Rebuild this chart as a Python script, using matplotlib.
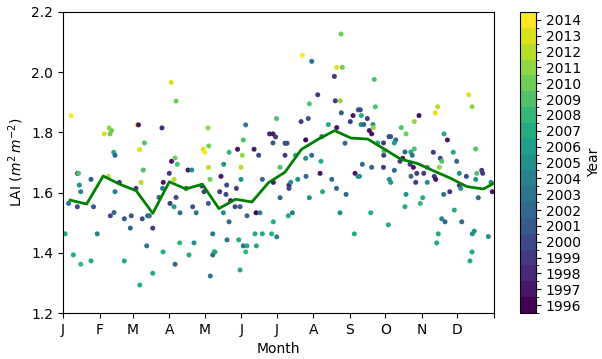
import matplotlib
matplotlib.use("Agg")
import matplotlib.pyplot as plt
import numpy as np
from matplotlib.colors import BoundaryNorm
from matplotlib.ticker import FixedLocator

# observations: day of year, LAI, year
doy = [2.7, 7.8, 5.7, 9.7, 13.3, 14.1, 14.8, 16.0, 13.1, 16.0,
       24.7, 26.8, 30.0, 24.7, 36.0, 40.0, 42.1, 40.8, 39.4, 43.9,
       45.0, 48.7, 45.0, 44.2, 41.1, 52.9, 58.8, 58.0, 52.9, 63.9,
       64.9, 65.8, 69.9, 69.0, 67.1, 62.8, 66.0, 68.1, 72.6, 74.1,
       77.0, 71.9, 77.0, 82.3, 85.3, 85.9, 84.8, 91.0, 92.9, 95.9,
       97.8, 92.6, 96.7, 95.0, 91.6, 96.7, 95.0, 100.1, 85.7, 95.9,
       99.8, 106.9, 110.0, 105.2, 110.8, 113.8, 111.9, 107.7, 119.8, 121.0,
       124.4, 123.8, 124.1, 125.5, 120.4, 124.1, 118.5, 127.8, 128.9, 127.8,
       125.7, 133.7, 134.8, 137.1, 139.6, 139.0, 136.8, 141.6, 141.6, 142.9,
       147.8, 148.8, 146.7, 150.9, 139.9, 149.8, 153.7, 156.8, 155.7, 150.9,
       129.7, 152.8, 151.7, 151.7, 153.7, 155.7, 156.8, 162.8, 166.7, 164.5,
       167.8, 163.6, 164.7, 169.8, 169.8, 175.9, 178.8, 181.0, 178.8, 181.8,
       179.1, 177.7, 182.0, 179.1, 184.8, 184.8, 189.0, 190.7, 189.0, 192.4,
       192.4, 193.8, 195.2, 191.8, 197.9, 199.8, 203.7, 211.6, 202.6, 208.7,
       209.6, 216.7, 206.5, 206.5, 211.6, 206.8, 209.6, 218.7, 219.5, 220.1,
       220.8, 225.7, 228.6, 232.6, 232.8, 230.8, 231.6, 232.8, 235.6, 236.4,
       237.5, 235.8, 236.7, 239.8, 240.7, 244.3, 246.6, 251.1, 252.8, 253.6,
       253.4, 255.7, 258.7, 260.4, 262.4, 263.5, 263.8, 264.6, 265.5, 267.5,
       248.3, 250.8, 252.1, 254.5, 262.4, 261.6, 247.7, 272.4, 272.6, 272.9,
       272.4, 277.1, 278.5, 282.8, 281.6, 277.3, 278.5, 281.6, 276.5, 287.5,
       291.5, 286.4, 288.7, 290.6, 295.5, 296.8, 294.9, 297.7, 300.6, 295.7,
       299.7, 291.5, 290.6, 298.5, 298.5, 302.5, 306.5, 309.5, 309.5, 305.6,
       303.6, 314.6, 315.4, 316.6, 318.3, 316.3, 320.5, 321.7, 319.7, 323.7,
       326.5, 323.4, 328.5, 321.7, 324.5, 318.8, 317.5, 331.5, 334.4, 336.6,
       332.4, 336.6, 337.8, 338.7, 342.6, 344.6, 347.4, 350.5, 351.4, 350.5,
       355.6, 356.4, 352.7, 363.5, 364.6, 349.3, 347.6, 361.2, 347.4, 345.7]
lai = [1.463, 1.856, 1.564, 1.393, 1.664, 1.664, 1.625, 1.603, 1.553, 1.362,
       1.644, 1.553, 1.463, 1.373, 1.795, 1.815, 1.806, 1.795, 1.654, 1.734,
       1.724, 1.634, 1.603, 1.534, 1.523, 1.513, 1.523, 1.482, 1.373, 1.825,
       1.825, 1.743, 1.765, 1.675, 1.634, 1.614, 1.293, 1.513, 1.523, 1.523,
       1.482, 1.423, 1.332, 1.584, 1.614, 1.634, 1.815, 1.664, 1.704, 1.715,
       1.694, 1.966, 1.904, 1.644, 1.564, 1.584, 1.553, 1.533, 1.403, 1.362,
       1.433, 1.675, 1.675, 1.614, 1.553, 1.533, 1.433, 1.393, 1.744, 1.734,
       1.755, 1.815, 1.684, 1.644, 1.603, 1.564, 1.622, 1.463, 1.403, 1.393,
       1.323, 1.603, 1.654, 1.694, 1.625, 1.594, 1.533, 1.503, 1.734, 1.573,
       1.614, 1.744, 1.553, 1.553, 1.443, 1.443, 1.423, 1.423, 1.403, 1.343,
       1.403, 1.724, 1.684, 1.644, 1.775, 1.825, 1.523, 1.744, 1.724, 1.533,
       1.533, 1.463, 1.423, 1.644, 1.463, 1.795, 1.795, 1.785, 1.765, 1.846,
       1.634, 1.463, 1.453, 1.503, 1.684, 1.583, 1.764, 1.764, 1.724, 1.625,
       1.614, 1.634, 1.533, 1.523, 1.724, 1.644, 2.056, 2.036, 1.836, 1.846,
       1.895, 1.925, 1.775, 1.714, 1.724, 1.654, 1.583, 1.664, 1.704, 1.786,
       1.603, 1.826, 1.644, 1.614, 2.016, 1.986, 1.905, 1.816, 1.533, 2.127,
       2.016, 1.905, 1.865, 1.764, 1.594, 1.836, 1.856, 1.875, 1.875, 1.856,
       1.826, 1.826, 1.846, 1.806, 1.795, 1.826, 1.816, 1.976, 1.885, 1.765,
       1.664, 1.654, 1.654, 1.694, 1.684, 1.533, 1.463, 1.765, 1.724, 1.738,
       1.684, 1.786, 1.786, 1.775, 1.765, 1.644, 1.634, 1.674, 1.493, 1.816,
       1.795, 1.704, 1.714, 1.735, 1.735, 1.724, 1.694, 1.684, 1.664, 1.654,
       1.634, 1.594, 1.553, 1.836, 1.745, 1.856, 1.664, 1.684, 1.634, 1.583,
       1.564, 1.734, 1.654, 1.644, 1.885, 1.865, 1.714, 1.704, 1.684, 1.795,
       1.775, 1.594, 1.603, 1.513, 1.503, 1.463, 1.433, 1.734, 1.704, 1.664,
       1.542, 1.624, 1.614, 1.503, 1.654, 1.925, 1.885, 1.745, 1.664, 1.644,
       1.674, 1.664, 1.583, 1.634, 1.603, 1.472, 1.463, 1.454, 1.403, 1.373]
year = [2007, 2014, 2003, 2007, 1997, 2009, 2005, 2004, 2000, 2008,
        2001, 2001, 2004, 2007, 2013, 2011, 2010, 2010, 2012, 2007,
        2002, 1999, 2004, 2002, 2000, 2001, 2001, 2002, 2007, 2013,
        1997, 2013, 2009, 2009, 2012, 1999, 2007, 2000, 2002, 2003,
        1999, 2003, 2007, 2002, 2003, 1997, 1998, 1999, 1997, 2010,
        2009, 2013, 2010, 2012, 1999, 2000, 2006, 2003, 2007, 2002,
        2008, 1997, 2005, 2000, 2001, 2003, 2005, 2007, 2013, 2014,
        2010, 2011, 2012, 2010, 1999, 2001, 1999, 2003, 2009, 2002,
        2003, 1999, 1997, 2005, 2000, 2000, 2005, 2002, 2008, 1997,
        1999, 1997, 2000, 2001, 2003, 2007, 2003, 2007, 2008, 2007,
        2007, 2011, 2012, 2005, 2009, 2003, 2002, 1997, 2000, 1996,
        2004, 2007, 2007, 2002, 2007, 1998, 1997, 1999, 2001, 2009,
        1997, 2007, 2004, 2007, 2009, 2002, 2000, 2000, 1999, 1997,
        2000, 2005, 2004, 2007, 2007, 2005, 2014, 2003, 1999, 2001,
        2009, 1999, 1996, 2005, 2002, 2002, 2005, 1997, 2007, 2002,
        2007, 2007, 2002, 2002, 2013, 1999, 1999, 1997, 2005, 2010,
        2010, 2011, 2001, 2002, 2002, 1999, 1997, 2001, 2000, 2007,
        2005, 2002, 1999, 1997, 1997, 2005, 2011, 2009, 2009, 2007,
        1997, 2005, 2005, 2002, 2002, 2007, 2007, 1999, 1999, 2009,
        1999, 2000, 2001, 2002, 2006, 2005, 2005, 2002, 2007, 2009,
        2010, 1999, 1997, 2002, 2007, 2003, 1999, 1997, 1999, 2002,
        1999, 2005, 2007, 2011, 2009, 1997, 1999, 2007, 2005, 2007,
        2008, 1999, 1999, 1997, 2012, 2013, 2000, 2009, 2011, 2007,
        1997, 2003, 1999, 2004, 2002, 2007, 2007, 2007, 2002, 2005,
        2007, 1999, 2005, 2002, 2000, 2013, 2011, 2009, 2009, 2005,
        1999, 1999, 2002, 2005, 1997, 2005, 2005, 2005, 2007, 2007]

# two-week mean curve
mean_doy = [7, 21, 35, 49, 63, 77, 91, 105, 119, 133, 147, 161, 175,
            189, 203, 217, 231, 245, 259, 273, 287, 301, 315, 329, 343, 357, 371]
mean_lai = [1.575, 1.562, 1.655, 1.628, 1.606, 1.531, 1.636, 1.612, 1.628,
            1.547, 1.578, 1.569, 1.633, 1.668, 1.744, 1.777, 1.806, 1.781,
            1.778, 1.745, 1.711, 1.697, 1.672, 1.648, 1.620, 1.612, 1.642]

month_starts = [1, 32, 60, 91, 121, 152, 182, 213, 244, 274, 305, 335, 366]
month_labels = ["J", "F", "M", "A", "M", "J", "J", "A", "S", "O", "N", "D", ""]
years = list(range(1996, 2015))

fig = plt.figure(figsize=(6.02, 3.59), dpi=100)
ax = fig.add_axes([0.1047, 0.1281, 0.7159, 0.8385])
cax = fig.add_axes([0.8638, 0.1281, 0.0266, 0.8385])

cmap = plt.get_cmap("viridis", len(years))
bounds = np.arange(years[0] - 0.5, years[-1] + 1.0, 1.0)
norm = BoundaryNorm(bounds, cmap.N)

sc = ax.scatter(doy, lai, c=year, cmap=cmap, norm=norm, s=13, linewidths=0, zorder=2)
ax.plot(mean_doy, mean_lai, color="green", linewidth=2, zorder=3)

ax.set_xlim(1, 366)
ax.set_ylim(1.2, 2.2)
ax.set_xticks(month_starts)
ax.set_xticklabels(month_labels)
ax.set_xlabel("Month")
ax.set_ylabel(r"LAI ($m^2\,m^{-2}$)")

cb = fig.colorbar(sc, cax=cax, ticks=years)
cb.ax.yaxis.set_minor_locator(FixedLocator(bounds))
cb.set_label("Year")

fig.savefig("out.png", dpi=100)
